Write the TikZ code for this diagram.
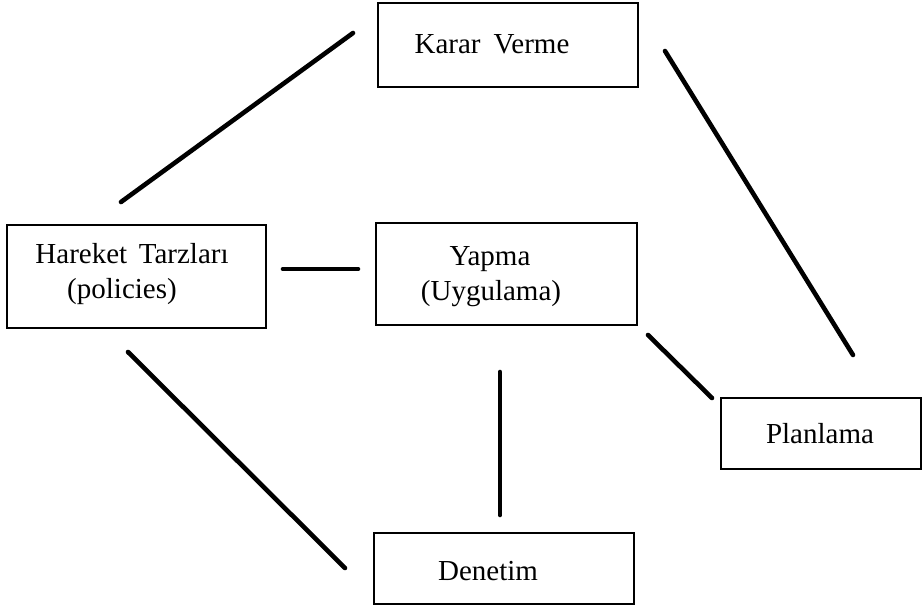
\documentclass[tikz,border=0pt]{standalone}
\usepackage{fontspec}
\setmainfont{Liberation Serif}
\begin{document}
\begin{tikzpicture}[x=1pt,y=-1pt,
  box/.style={draw=black, line width=1.3pt, inner sep=0pt},
  lbl/.style={inner sep=0pt, anchor=base, font=\fontsize{29}{35}\selectfont},
  link/.style={line width=4.6pt, line cap=round}]
\useasboundingbox[fill=white] (0,0) rectangle (922,608);
% boxes
\node[box, minimum width=260pt, minimum height=84pt] (kv) at (508,45) {};
\node[box, minimum width=259pt, minimum height=103pt] (ht) at (136.5,276.5) {};
\node[box, minimum width=261pt, minimum height=102pt] (ya) at (506.5,274) {};
\node[box, minimum width=200pt, minimum height=71pt] (pl) at (821,433.5) {};
\node[box, minimum width=260pt, minimum height=71pt] (de) at (504,568.5) {};
% texts
\node[lbl] (kvt) at (492,53) {Karar\hspace{0.45em}Verme};
\node[lbl] (htt) at (132,263) {Hareket\hspace{0.4em}Tarzları};
\node[lbl] (htp) at (122,298) {(policies)};
\node[lbl] (yat) at (490,265) {Yapma};
\node[lbl] (yap) at (491,300) {(Uygulama)};
\node[lbl] (plt) at (820,443) {Planlama};
\node[lbl] (det) at (488,580) {Denetim};
% connector ends
\coordinate (a1) at (121,202); \coordinate (a2) at (353,33);
\coordinate (b1) at (283,269); \coordinate (b2) at (358,269);
\coordinate (c1) at (665,51);  \coordinate (c2) at (853,355);
\coordinate (d1) at (648,335); \coordinate (d2) at (712,398);
\coordinate (e1) at (500,372); \coordinate (e2) at (500,515);
\coordinate (f1) at (128,352); \coordinate (f2) at (345,568);
\draw[link] (a1) -- (a2);
\draw[link] (b1) -- (b2);
\draw[link] (c1) -- (c2);
\draw[link] (d1) -- (d2);
\draw[link] (e1) -- (e2);
\draw[link] (f1) -- (f2);
\end{tikzpicture}
\end{document}
